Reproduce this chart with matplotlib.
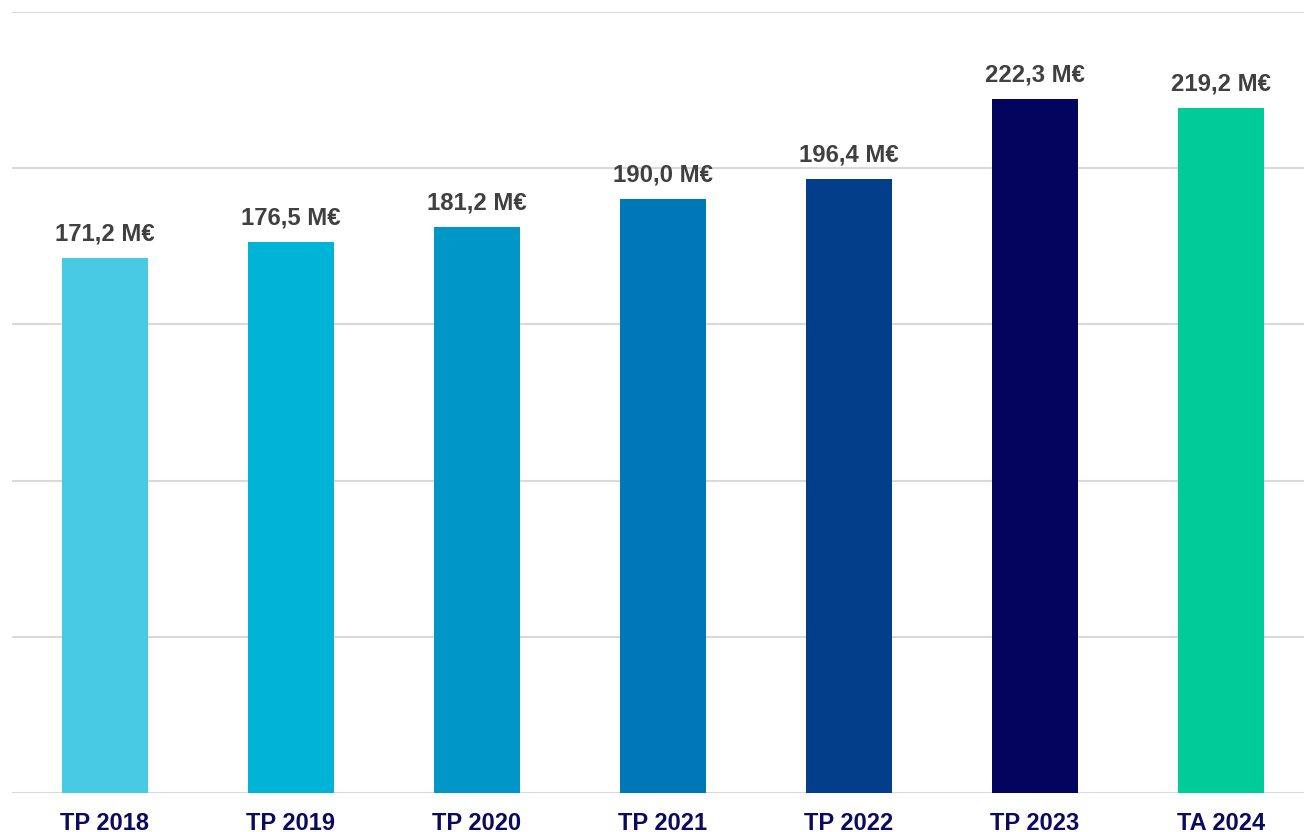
import numpy as np
import matplotlib.pyplot as plt

# Budget par année
categories = ["TP 2018", "TP 2019", "TP 2020", "TP 2021", "TP 2022", "TP 2023", "TA 2024"]
values = [171.2, 176.5, 181.2, 190.0, 196.4, 222.3, 219.2]
bar_colors = ["#48CAE4", "#00B4D8", "#0096C7", "#0077B6", "#023E8A", "#03045E", "#00CC99"]

plt.rcParams['font.family'] = ['Liberation Sans', 'DejaVu Sans']

fig = plt.figure(figsize=(13.04, 8.32), dpi=100)
ax = fig.add_axes([12/1304, 1 - 793/832, 1302/1304, (793 - 12)/832])

x = np.arange(len(categories))
bars = ax.bar(x, values, width=0.46, color=bar_colors, zorder=2)

for xi, v in zip(x, values):
    lbl = "{0:.1f} M€".format(v).replace(".", ",")
    ax.annotate(lbl, (xi, v), xytext=(0, 9), textcoords="offset points",
                ha="center", va="bottom", fontsize=17.2, fontweight="bold", color="#404040")

ax.set_ylim(0, 250)
ax.set_xlim(-0.5, len(categories) - 0.5)
ax.set_yticks(np.arange(0, 251, 50))
ax.yaxis.grid(True, color="#D9D9D9", linewidth=1.5, zorder=0)
ax.set_yticklabels([])
ax.tick_params(axis="y", length=0)
ax.tick_params(axis="x", length=0, pad=14)
ax.set_xticks(x)
ax.set_xticklabels(categories, fontsize=17, fontweight="bold", color="#0A0A5E")
for s in ["top", "right", "left", "bottom"]:
    ax.spines[s].set_visible(False)

fig.savefig("out.png", dpi=100)
